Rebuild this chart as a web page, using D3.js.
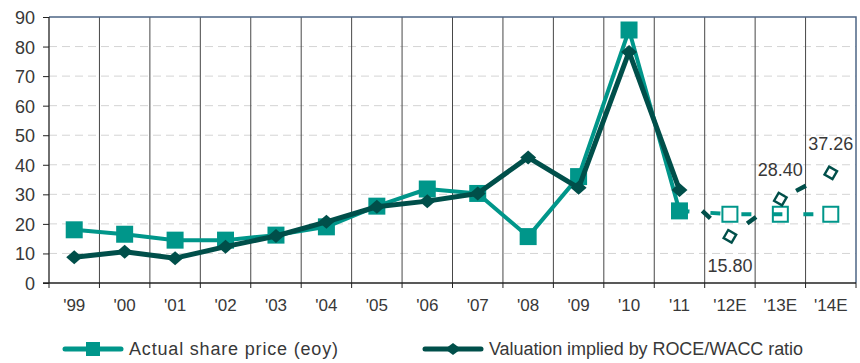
<!DOCTYPE html>
<html>
<head>
<meta charset="utf-8">
<script src="https://cdn.jsdelivr.net/npm/d3@7"></script>
<style>
  html, body { margin: 0; padding: 0; background: #fff; }
  svg { display: block; font-family: "Liberation Sans", Arial, Helvetica, sans-serif; }
</style>
</head>
<body>
<svg id="chart" width="860" height="363"></svg>
<script>
// Years on the x axis; the last three are estimates
const categories = ["'99", "'00", "'01", "'02", "'03", "'04", "'05", "'06", "'07", "'08", "'09", "'10", "'11", "'12E", "'13E", "'14E"];
const estimateStart = 12; // index of '11, where the dashed forecast segments begin

// Actual share price at end of year ('99 .. '11), then the flat forecast ('12E .. '14E)
const sharePrice = [18, 16.5, 14.5, 14.5, 16.2, 19, 26, 31.8, 30.3, 15.7, 36, 85.6, 24.4];
const sharePriceEst = [23.3, 23.3, 23.3];

// Valuation implied by ROCE/WACC ratio ('99 .. '11), then estimates
const valuation = [8.7, 10.6, 8.4, 12.3, 15.9, 20.7, 25.8, 27.7, 30.3, 42.5, 32.2, 78.2, 31.5];
const valuationEst = [15.80, 28.40, 37.26];

const yTicks = [0, 10, 20, 30, 40, 50, 60, 70, 80, 90];
const seriesNames = ["Actual share price (eoy)", "Valuation implied by ROCE/WACC ratio"];

const teal = "#00968a";
const dark = "#004f4a";
const textColor = "#383838";

const svg = d3.select("#chart");
const plot = { left: 49, right: 856, top: 17, bottom: 283 };

const x = d3.scaleBand().domain(categories).range([plot.left, plot.right]).padding(0);
const cx = c => x(c) + x.bandwidth() / 2;
const y = d3.scaleLinear().domain([0, 90]).range([plot.bottom, plot.top]);

// Horizontal dashed gridlines
svg.append("g")
  .selectAll("line")
  .data(yTicks.filter(v => v > 0 && v < 90))
  .join("line")
  .attr("x1", plot.left).attr("x2", plot.right)
  .attr("y1", d => y(d)).attr("y2", d => y(d))
  .attr("stroke", "#d4d4d4").attr("stroke-width", 1)
  .attr("stroke-dasharray", "8,5");

// Vertical separators between years
const boundaries = categories.map(c => x(c)).concat([plot.right]);
svg.append("g")
  .selectAll("line")
  .data(boundaries.slice(1, -1))
  .join("line")
  .attr("x1", d => d).attr("x2", d => d)
  .attr("y1", plot.top).attr("y2", plot.bottom)
  .attr("stroke", "#474747").attr("stroke-width", 1);

// Plot frame: top and right in slate blue
svg.append("path")
  .attr("d", `M${plot.left},${plot.top}H${plot.right}V${plot.bottom}`)
  .attr("fill", "none").attr("stroke", "#4d6585").attr("stroke-width", 1.5);

// Left axis
const yAxis = svg.append("g")
  .attr("transform", `translate(${plot.left},0)`)
  .call(d3.axisLeft(y).tickValues(yTicks).tickSize(6).tickPadding(8).tickFormat(d3.format("d")));
yAxis.select(".domain").attr("stroke", "#222").attr("stroke-width", 1.3).attr("d", `M0,${plot.top}V${plot.bottom}`);
yAxis.selectAll(".tick line").attr("stroke", "#222");
yAxis.selectAll(".tick text")
  .attr("fill", textColor).style("font-size", "18px")
  .attr("dy", "0.36em");

// Bottom axis: baseline, ticks at year boundaries, labels centred under each year
svg.append("line")
  .attr("x1", plot.left - 6).attr("x2", plot.right)
  .attr("y1", plot.bottom).attr("y2", plot.bottom)
  .attr("stroke", "#222").attr("stroke-width", 1.3);
svg.append("g")
  .selectAll("line")
  .data(boundaries)
  .join("line")
  .attr("x1", d => d).attr("x2", d => d)
  .attr("y1", plot.bottom).attr("y2", plot.bottom + 5)
  .attr("stroke", "#222");
const xAxis = svg.append("g")
  .attr("transform", `translate(0,${plot.bottom})`)
  .call(d3.axisBottom(x).tickSize(0).tickPadding(22));
xAxis.select(".domain").remove();
xAxis.selectAll(".tick text")
  .attr("fill", textColor).style("font-size", "17px")
  .attr("dy", "0.35em");

// Line generator
const line = d3.line().x(d => cx(d.c)).y(d => y(d.v));

const actualPts = sharePrice.map((v, i) => ({ c: categories[i], v }));
const actualEstPts = [actualPts[estimateStart]].concat(
  sharePriceEst.map((v, i) => ({ c: categories[estimateStart + 1 + i], v })));
const valPts = valuation.map((v, i) => ({ c: categories[i], v }));
const valEstPts = [valPts[estimateStart]].concat(
  valuationEst.map((v, i) => ({ c: categories[estimateStart + 1 + i], v })));

const squarePath = s => `M${-s / 2},${-s / 2}h${s}v${s}h${-s}Z`;
const diamondPath = (w, h) => `M0,${-h}L${w},0L0,${h}L${-w},0Z`;

// Share price: forecast dashes, history line, markers
svg.append("path").datum(actualEstPts)
  .attr("d", line).attr("fill", "none")
  .attr("stroke", teal).attr("stroke-width", 4)
  .attr("stroke-dasharray", "10,21");
svg.append("path").datum(actualPts)
  .attr("d", line).attr("fill", "none")
  .attr("stroke", teal).attr("stroke-width", 4).attr("stroke-linejoin", "round");
svg.append("g").selectAll("path")
  .data(actualPts).join("path")
  .attr("transform", d => `translate(${cx(d.c)},${y(d.v)})`)
  .attr("d", squarePath(17)).attr("fill", teal);
svg.append("g").selectAll("path")
  .data(actualEstPts.slice(1)).join("path")
  .attr("transform", d => `translate(${cx(d.c)},${y(d.v)})`)
  .attr("d", squarePath(15)).attr("fill", "none")
  .attr("stroke", teal).attr("stroke-width", 2);

// Valuation: forecast dashes, history line, markers
svg.append("path").datum(valEstPts)
  .attr("d", line).attr("fill", "none")
  .attr("stroke", dark).attr("stroke-width", 4.5)
  .attr("stroke-dasharray", "11,48").attr("stroke-dashoffset", 28);
svg.append("path").datum(valPts)
  .attr("d", line).attr("fill", "none")
  .attr("stroke", dark).attr("stroke-width", 5).attr("stroke-linejoin", "round");
svg.append("g").selectAll("path")
  .data(valPts).join("path")
  .attr("transform", d => `translate(${cx(d.c)},${y(d.v)})`)
  .attr("d", diamondPath(8, 7)).attr("fill", dark);
svg.append("g").selectAll("path")
  .data(valEstPts.slice(1)).join("path")
  .attr("transform", d => `translate(${cx(d.c)},${y(d.v)}) rotate(-15)`)
  .attr("d", diamondPath(6.5, 6.5)).attr("fill", "#fff")
  .attr("stroke", dark).attr("stroke-width", 2.4);

// Value labels on the estimates: first one below, the rest above
svg.append("g").selectAll("text")
  .data(valEstPts.slice(1)).join("text")
  .attr("x", d => cx(d.c))
  .attr("y", (d, i) => i === 0 ? y(d.v) + 36 : y(d.v) - 23)
  .attr("text-anchor", "middle")
  .attr("fill", textColor).style("font-size", "18px")
  .text(d => d3.format(".2f")(d.v));

// Legend
const legend = svg.append("g");
const legendItems = [
  { name: seriesNames[0], color: teal, x0: 65, marker: squarePath(14), w: 5, len: 209 },
  { name: seriesNames[1], color: dark, x0: 425, marker: diamondPath(8, 6), w: 5, len: 314 }
];
const li = legend.selectAll("g").data(legendItems).join("g")
  .attr("transform", d => `translate(${d.x0},349)`);
li.append("line")
  .attr("x1", 0).attr("x2", 56).attr("y1", 0).attr("y2", 0)
  .attr("stroke", d => d.color).attr("stroke-width", d => d.w).attr("stroke-linecap", "round");
li.append("path")
  .attr("transform", "translate(28,0)")
  .attr("d", d => d.marker).attr("fill", d => d.color);
li.append("text")
  .attr("x", 64).attr("y", 0).attr("dy", "0.36em")
  .attr("textLength", d => d.len).attr("lengthAdjust", "spacing")
  .attr("fill", textColor).style("font-size", "18px")
  .text(d => d.name);
</script>
</body>
</html>
